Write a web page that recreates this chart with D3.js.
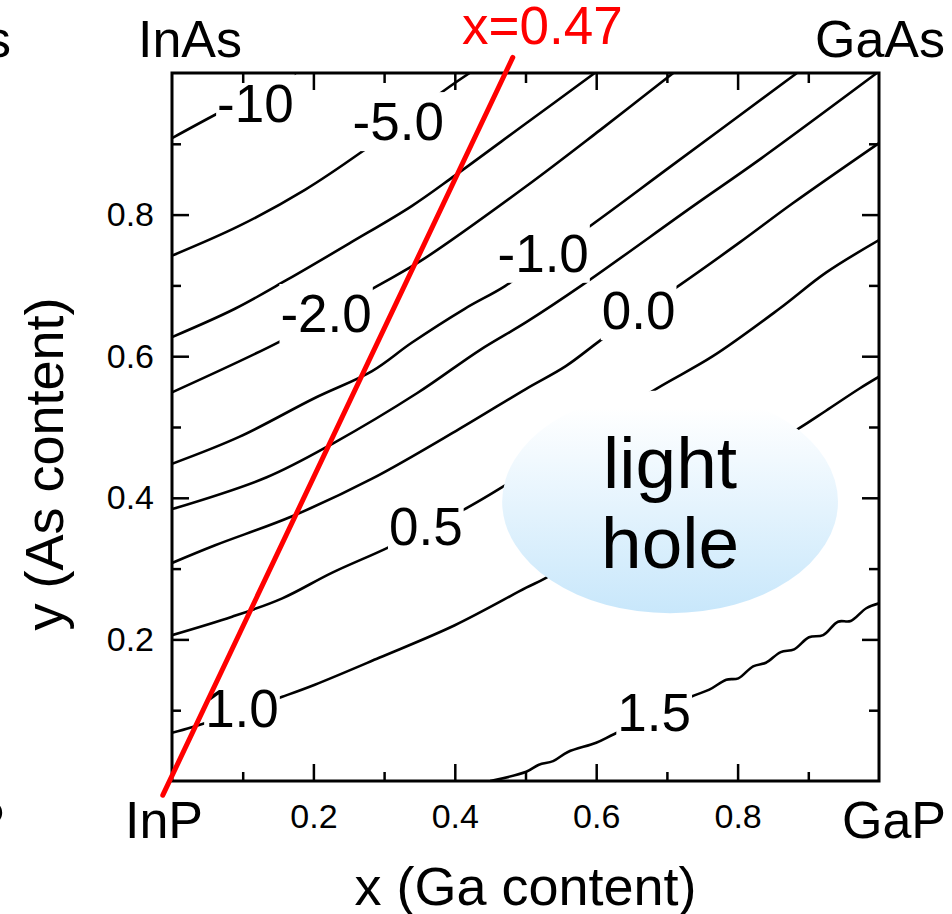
<!DOCTYPE html>
<html>
<head>
<meta charset="utf-8">
<script src="https://cdn.jsdelivr.net/npm/d3@7"></script>
<style>
  body { margin: 0; background: #fff; }
  svg { display: block; font-family: 'Liberation Sans', Arial, sans-serif; }
</style>
</head>
<body>
<div id="root"></div>
<script>
// contour lines, [x (Ga), y (As)]
const levelM10 = [[0, 0.908], [0.061, 0.941], [0.117, 0.970], [0.175, 1.0]];
const levelM5 = [[0, 0.742], [0.095, 0.784], [0.188, 0.835], [0.266, 0.887], [0.386, 0.976], [0.421, 1.0]];
const levelM3 = [[0, 0.627], [0.089, 0.667], [0.163, 0.708], [0.252, 0.760], [0.339, 0.812], [0.400, 0.855], [0.501, 0.929], [0.598, 1.0]];
const levelM2 = [[0, 0.549], [0.151, 0.620], [0.218, 0.658], [0.290, 0.699], [0.354, 0.736], [0.501, 0.840], [0.605, 0.919], [0.709, 1.0]];
const levelM1 = [[0, 0.448], [0.095, 0.486], [0.202, 0.541], [0.283, 0.579], [0.339, 0.619], [0.414, 0.667], [0.471, 0.699], [0.532, 0.743], [0.593, 0.785], [0.704, 0.867], [0.884, 1.0]];
const levelM05 = [[0, 0.384], [0.134, 0.429], [0.228, 0.477], [0.347, 0.548], [0.436, 0.609], [0.501, 0.648], [0.581, 0.701], [0.737, 0.812], [0.830, 0.877], [0.997, 1.0]];
const level0 = [[0, 0.308], [0.061, 0.333], [0.170, 0.374], [0.283, 0.427], [0.406, 0.497], [0.501, 0.554], [0.557, 0.586], [0.604, 0.621], [0.659, 0.661], [0.716, 0.699], [0.802, 0.760], [0.878, 0.816], [1.0, 0.901]];
const level05 = [[0, 0.206], [0.085, 0.232], [0.156, 0.258], [0.226, 0.294], [0.304, 0.329], [0.359, 0.357], [0.414, 0.384], [0.467, 0.415], [0.577, 0.486], [0.685, 0.554], [0.765, 0.600], [0.859, 0.667], [0.925, 0.718], [1.0, 0.764]];
const level1 = [[0, 0.068], [0.028, 0.076], [0.099, 0.099], [0.156, 0.119], [0.202, 0.136], [0.293, 0.174], [0.400, 0.220], [0.501, 0.273], [0.529, 0.287], [0.704, 0.393], [0.885, 0.497], [0.925, 0.523], [0.972, 0.554], [1.0, 0.571]];
const level15 = [[0.450, 0], [0.501, 0.013], [0.519, 0.023], [0.539, 0.028], [0.560, 0.041], [0.600, 0.054], [0.625, 0.066], [0.682, 0.092], [0.734, 0.119], [0.760, 0.129], [0.784, 0.143], [0.801, 0.145], [0.822, 0.162], [0.840, 0.167], [0.861, 0.182], [0.880, 0.186], [0.901, 0.203], [0.921, 0.206], [0.942, 0.225], [0.960, 0.226], [0.982, 0.244], [1.0, 0.251]];

const contourLevels = [-10, -5, -3, -2, -1, -0.5, 0, 0.5, 1, 1.5];
const contourPoints = [levelM10, levelM5, levelM3, levelM2, levelM1, levelM05, level0, level05, level1, level15];

// inline contour labels
const labelText = ['-10', '-5.0', '-2.0', '-1.0', '0.0', '0.5', '1.0', '1.5'];
const labelX = [0.118, 0.320, 0.218, 0.525, 0.660, 0.359, 0.099, 0.682];
const labelY = [0.958, 0.932, 0.661, 0.746, 0.665, 0.360, 0.103, 0.097];

const majorTicks = [0.2, 0.4, 0.6, 0.8];
const minorTicks = [0.1, 0.3, 0.5, 0.7, 0.9];

// lattice matched line (x = 0.47) and light hole region
const matchedLine = [[-0.013, -0.02], [0.482, 1.022]];
const matchedLabel = 'x=0.47';
const holeX = [0.467, 0.942];
const holeY = [0.237, 0.552];
const holeText = ['light', 'hole'];

const cornerNames = ['InAs', 'GaAs', 'InP', 'GaP'];

drawChart();

function drawChart() {
  const svgWidth = 952;
  const svgHeight = 914;
  const margin = { top: 73, right: 73, bottom: 133, left: 172 };
  const chartWidth = svgWidth - margin.left - margin.right;
  const chartHeight = svgHeight - margin.top - margin.bottom;

  const xScale = d3.scaleLinear().domain([0, 1]).range([0, chartWidth]);
  const yScale = d3.scaleLinear().domain([0, 1]).range([chartHeight, 0]);

  const svg = d3.select('#root').append('svg')
    .attr('width', svgWidth)
    .attr('height', svgHeight);

  const defs = svg.append('defs');
  defs.append('clipPath')
    .attr('id', 'plot-clip')
    .append('rect')
    .attr('width', chartWidth)
    .attr('height', chartHeight);

  const grad = defs.append('linearGradient')
    .attr('id', 'hole-grad')
    .attr('x1', 0).attr('y1', 0)
    .attr('x2', 0).attr('y2', 1);
  grad.append('stop').attr('offset', '0.08').attr('stop-color', '#ffffff');
  grad.append('stop').attr('offset', '1').attr('stop-color', '#c8e7fb');

  const chart = svg.append('g')
    .attr('transform', `translate(${margin.left}, ${margin.top})`);

  const line = d3.line()
    .x(d => xScale(d[0]))
    .y(d => yScale(d[1]));

  const contourLine = d3.line()
    .curve(d3.curveCatmullRom.alpha(0.5))
    .x(d => xScale(d[0]))
    .y(d => yScale(d[1]));

  chart.append('g')
    .attr('clip-path', 'url(#plot-clip)')
    .selectAll('path')
    .data(contourPoints)
    .enter()
    .append('path')
    .attr('data-level', (d, i) => contourLevels[i])
    .attr('d', contourLine)
    .attr('fill', 'none')
    .attr('stroke', '#000')
    .attr('stroke-width', 2.6)
    .attr('stroke-linejoin', 'round');

  // labels sit on a white box that cuts the contour line
  const labels = chart.append('g').selectAll('g')
    .data(labelText)
    .enter()
    .append('g');

  const labelSize = 53;
  labels.append('text')
    .attr('x', (d, i) => xScale(labelX[i]))
    .attr('y', (d, i) => yScale(labelY[i]) + labelSize * 0.358)
    .attr('text-anchor', 'middle')
    .attr('font-size', labelSize)
    .text(d => d);

  labels.each(function () {
    const g = d3.select(this);
    const box = g.select('text').node().getBBox();
    g.insert('rect', 'text')
      .attr('x', box.x - 1)
      .attr('y', box.y)
      .attr('width', box.width + 2)
      .attr('height', box.height)
      .attr('fill', '#fff');
  });

  // light hole bubble
  const holeCx = xScale((holeX[0] + holeX[1]) / 2);
  const holeCy = yScale((holeY[0] + holeY[1]) / 2);
  chart.append('ellipse')
    .attr('cx', holeCx)
    .attr('cy', holeCy)
    .attr('rx', (xScale(holeX[1]) - xScale(holeX[0])) / 2)
    .attr('ry', (yScale(holeY[0]) - yScale(holeY[1])) / 2)
    .attr('fill', 'url(#hole-grad)');

  chart.append('text')
    .attr('text-anchor', 'middle')
    .attr('font-size', 73)
    .selectAll('tspan')
    .data(holeText)
    .enter()
    .append('tspan')
    .attr('x', holeCx)
    .attr('y', (d, i) => holeCy - 14 + i * 80)
    .text(d => d);

  // axes: ticks point inwards on all four sides
  const tickStyle = g => {
    g.select('.domain').remove();
    g.attr('font-size', 34).attr('font-family', null);
    g.selectAll('.tick line').attr('stroke', '#000').attr('stroke-width', 2.5);
    g.selectAll('.tick text').attr('fill', '#000');
  };

  chart.append('g')
    .attr('transform', `translate(0, ${chartHeight})`)
    .call(d3.axisBottom(xScale).tickValues(majorTicks).tickSize(-17).tickPadding(23).tickFormat(d3.format('.1f')))
    .call(tickStyle);
  chart.append('g')
    .attr('transform', `translate(0, ${chartHeight})`)
    .call(d3.axisBottom(xScale).tickValues(minorTicks).tickSize(-9).tickFormat(''))
    .call(tickStyle);

  chart.append('g')
    .call(d3.axisLeft(yScale).tickValues(majorTicks).tickSize(-17).tickPadding(18).tickFormat(d3.format('.1f')))
    .call(tickStyle);
  chart.append('g')
    .call(d3.axisLeft(yScale).tickValues(minorTicks).tickSize(-9).tickFormat(''))
    .call(tickStyle);

  chart.append('g')
    .call(d3.axisTop(xScale).tickValues(majorTicks).tickSize(-17).tickFormat(''))
    .call(tickStyle);
  chart.append('g')
    .call(d3.axisTop(xScale).tickValues(minorTicks).tickSize(-10).tickFormat(''))
    .call(tickStyle);

  chart.append('g')
    .attr('transform', `translate(${chartWidth}, 0)`)
    .call(d3.axisRight(yScale).tickValues(majorTicks).tickSize(-17).tickFormat(''))
    .call(tickStyle);
  chart.append('g')
    .attr('transform', `translate(${chartWidth}, 0)`)
    .call(d3.axisRight(yScale).tickValues(minorTicks).tickSize(-10).tickFormat(''))
    .call(tickStyle);

  chart.append('rect')
    .attr('width', chartWidth)
    .attr('height', chartHeight)
    .attr('fill', 'none')
    .attr('stroke', '#000')
    .attr('stroke-width', 3);

  // x = 0.47 line
  chart.append('path')
    .attr('d', line(matchedLine))
    .attr('fill', 'none')
    .attr('stroke', '#ff0000')
    .attr('stroke-width', 5)
    .attr('stroke-linecap', 'round');

  svg.append('text')
    .attr('x', 462)
    .attr('y', 44)
    .attr('font-size', 53)
    .attr('fill', '#ff0000')
    .text(matchedLabel);

  // corner compounds
  const corners = [
    { x: margin.left - 34, y: margin.top - 16, anchor: 'start' },
    { x: margin.left + chartWidth + 66, y: margin.top - 16, anchor: 'end' },
    { x: margin.left - 47, y: margin.top + chartHeight + 57, anchor: 'start' },
    { x: margin.left + chartWidth + 67, y: margin.top + chartHeight + 57, anchor: 'end' },
  ];
  svg.append('g')
    .attr('font-size', 52)
    .selectAll('text')
    .data(cornerNames)
    .enter()
    .append('text')
    .attr('x', (d, i) => corners[i].x)
    .attr('y', (d, i) => corners[i].y)
    .attr('text-anchor', (d, i) => corners[i].anchor)
    .text(d => d);

  // edge of the neighbouring panel, cut off by the picture border
  svg.append('g')
    .attr('font-size', 52)
    .attr('text-anchor', 'end')
    .selectAll('text')
    .data([cornerNames[1], cornerNames[3]])
    .enter()
    .append('text')
    .attr('x', (d, i) => (i === 0 ? 11 : 5))
    .attr('y', (d, i) => corners[i * 2].y)
    .text(d => d);

  svg.append('text')
    .attr('x', margin.left + chartWidth / 2)
    .attr('y', 905)
    .attr('text-anchor', 'middle')
    .attr('font-size', 54)
    .text('x (Ga content)');

  svg.append('text')
    .attr('transform', `translate(63, 464) rotate(-90)`)
    .attr('text-anchor', 'middle')
    .attr('font-size', 54)
    .text('y (As content)');
}
</script>
</body>
</html>
